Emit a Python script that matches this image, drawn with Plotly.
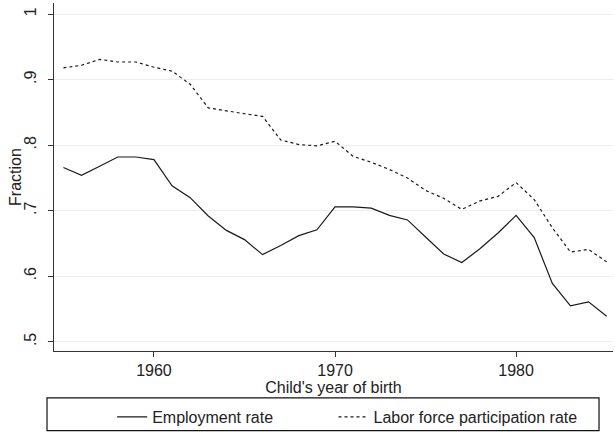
import plotly.graph_objects as go

years = list(range(1955, 1986))
employment = [0.766, 0.754, 0.768, 0.782, 0.782, 0.778, 0.738, 0.720, 0.692, 0.670,
              0.656, 0.633, 0.647, 0.662, 0.671, 0.706, 0.706, 0.704, 0.693, 0.686,
              0.660, 0.634, 0.621, 0.642, 0.666, 0.693, 0.659, 0.589, 0.555, 0.561,
              0.539]
lfp = [0.918, 0.922, 0.931, 0.927, 0.927, 0.919, 0.913, 0.893, 0.857, 0.852,
       0.848, 0.844, 0.808, 0.801, 0.799, 0.806, 0.783, 0.774, 0.763, 0.750,
       0.731, 0.719, 0.702, 0.715, 0.722, 0.743, 0.717, 0.674, 0.637, 0.641,
       0.622]
y_ticks = [0.5, 0.6, 0.7, 0.8, 0.9, 1.0]
y_ticklabels = [".5", ".6", ".7", ".8", ".9", "1"]
x_ticks = [1960, 1970, 1980]

font = "Liberation Sans, Arial, sans-serif"
legend_style = dict(orientation="h", xanchor="left", y=-0.186, yanchor="middle",
                    borderwidth=0, bgcolor="rgba(0,0,0,0)",
                    font=dict(size=16, family=font, color="#222"))

fig = go.Figure()
fig.add_trace(go.Scatter(x=years, y=employment, mode="lines", name="Employment rate",
                         line=dict(color="#1a1a1a", width=1.2), legend="legend"))
fig.add_trace(go.Scatter(x=years, y=lfp, mode="lines", name="Labor force participation rate",
                         line=dict(color="#1a1a1a", width=1.2, dash="3px,3px"),
                         legend="legend2"))

# plot area: x 54..613, y 3..352 (px)
fig.update_layout(
    width=615, height=435,
    margin=dict(l=54, r=2, t=3, b=83),
    paper_bgcolor="white", plot_bgcolor="white",
    font=dict(family=font, size=16, color="#222"),
    showlegend=True,
    legend=dict(x=0.104, **legend_style),
    legend2=dict(x=0.5, **legend_style),
    shapes=[dict(type="rect", xref="paper", yref="paper",
                 x0=-0.0125, x1=0.975, y0=-0.229, y1=-0.1347,
                 line=dict(color="#111", width=1.2), fillcolor="rgba(0,0,0,0)")],
    annotations=[dict(text="Fraction", xref="paper", yref="paper", x=-0.0699, y=0.5,
                      xanchor="center", yanchor="middle", textangle=-90, showarrow=False,
                      font=dict(size=16, family=font, color="#222"))],
)
fig.update_xaxes(range=[1954.48, 1985.35], tickvals=x_ticks, ticks="outside", ticklen=5,
                 tickcolor="#333", showline=True, linecolor="#333", linewidth=1.2,
                 showgrid=False, zeroline=False, automargin=False,
                 title=dict(text="Child's year of birth", standoff=0, font=dict(size=16)))
fig.update_yaxes(range=[0.486, 1.017], tickvals=y_ticks, ticktext=y_ticklabels,
                 tickangle=-90, ticks="outside", ticklen=5, tickcolor="#333",
                 showline=True, linecolor="#333", linewidth=1.2,
                 showgrid=True, gridcolor="#e8eef4", gridwidth=1, zeroline=False,
                 automargin=False, ticklabelstandoff=6)

fig.write_html("out.html", config={"displayModeBar": False},
               post_script="document.body.style.margin='0px';")
